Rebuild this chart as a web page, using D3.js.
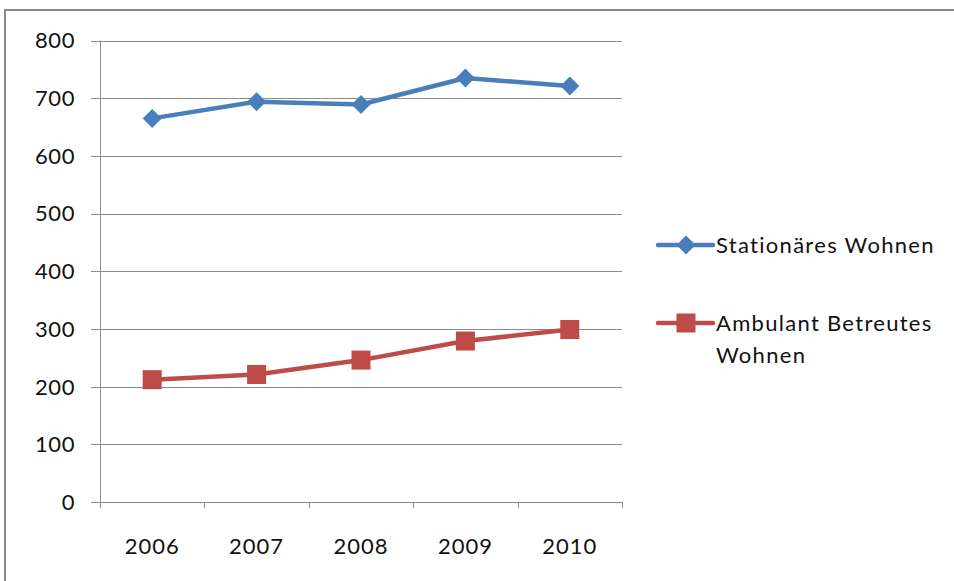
<!DOCTYPE html>
<html><head><meta charset="utf-8">
<script src="https://cdn.jsdelivr.net/npm/d3@7"></script>
<style>body{margin:0;background:#fff}svg{display:block}text{font-family:Lato,"Open Sans",sans-serif;fill:#111}</style>
</head><body><svg id="c" width="954" height="581"></svg>
<script>
const years = ["2006","2007","2008","2009","2010"];
const stationaer = [665, 694, 689, 735, 721];
const ambulant = [212, 221, 246, 279, 299];
const yTicks = [0,100,200,300,400,500,600,700,800];
const seriesNames = ["Stationäres Wohnen", "Ambulant Betreutes Wohnen"];
const colors = ["#4a7ebb", "#be4b48"];

(function(){
const svg = d3.select("#c");
svg.append("rect").attr("width",954).attr("height",581).attr("fill","#fff");
svg.append("path").attr("d","M5,581V10H954").attr("fill","none").attr("stroke","#8a8a8a").attr("stroke-width",2);

const pL=100, pR=622, pT=40.5, pB=502;
const x = d3.scaleBand().domain(years).range([pL,pR]);
const y = d3.scaleLinear().domain([0,800]).range([pB,pT]);

svg.append("g").selectAll("line").data(yTicks).join("line")
  .attr("x1",pL-9).attr("x2",pR).attr("y1",d=>Math.round(y(d))+0.5).attr("y2",d=>Math.round(y(d))+0.5)
  .attr("stroke","#8c8c8c").attr("stroke-width",1);
svg.append("line").attr("x1",pL+0.5).attr("x2",pL+0.5).attr("y1",pT).attr("y2",pB)
  .attr("stroke","#8c8c8c");
const bounds = years.map(d=>x(d)).concat([pR]);
svg.selectAll(".xt").data(bounds).join("line").attr("class","xt")
  .attr("x1",d=>Math.round(d)+0.5).attr("x2",d=>Math.round(d)+0.5).attr("y1",pB).attr("y2",pB+6)
  .attr("stroke","#8c8c8c");

svg.selectAll(".yl").data(yTicks).join("text").attr("class","yl")
  .attr("x",75).attr("y",d=>y(d)).attr("dy","0.36em").attr("text-anchor","end")
  .attr("font-size",22).attr("letter-spacing",0.6).text(d=>d);
svg.selectAll(".xl").data(years).join("text").attr("class","xl")
  .attr("x",d=>x(d)+x.bandwidth()/2).attr("y",546).attr("dy","0.36em").attr("text-anchor","middle")
  .attr("font-size",22).attr("letter-spacing",1).text(d=>d);

const line = d3.line().x((d,i)=>x(years[i])+x.bandwidth()/2).y(d=>y(d));
[stationaer, ambulant].forEach((s,k)=>{
  svg.append("path").datum(s).attr("d",line).attr("fill","none")
    .attr("stroke",colors[k]).attr("stroke-width",4.5).attr("stroke-linejoin","round");
});
const diamond = (cx,cy,r)=>`M${cx},${cy-r}L${cx+r},${cy}L${cx},${cy+r}L${cx-r},${cy}Z`;
svg.selectAll(".m0").data(stationaer).join("path").attr("class","m0")
  .attr("d",(d,i)=>diamond(x(years[i])+x.bandwidth()/2,y(d),9.5)).attr("fill",colors[0]);
svg.selectAll(".m1").data(ambulant).join("rect").attr("class","m1")
  .attr("x",(d,i)=>x(years[i])+x.bandwidth()/2-9.5).attr("y",d=>y(d)-9.5)
  .attr("width",19).attr("height",19).attr("fill",colors[1]);

const lg = svg.append("g");
const ly = [245, 323];
ly.forEach((yy,k)=>{
  lg.append("line").attr("x1",658).attr("x2",713).attr("y1",yy).attr("y2",yy)
    .attr("stroke",colors[k]).attr("stroke-width",4.5).attr("stroke-linecap","round");
});
lg.append("path").attr("d",diamond(686,245,9.5)).attr("fill",colors[0]);
lg.append("rect").attr("x",686-9.5).attr("y",323-9.5).attr("width",19).attr("height",19).attr("fill",colors[1]);
lg.append("text").attr("x",716).attr("y",245).attr("dy","0.36em").attr("font-size",22).attr("letter-spacing",1.3).text(seriesNames[0]);
const t2 = lg.append("text").attr("x",716).attr("y",323).attr("dy","0.36em").attr("font-size",22).attr("letter-spacing",1.3);
t2.append("tspan").attr("x",716).text("Ambulant Betreutes");
t2.append("tspan").attr("x",716).attr("dy","1.45em").text("Wohnen");
})();
</script></body></html>
